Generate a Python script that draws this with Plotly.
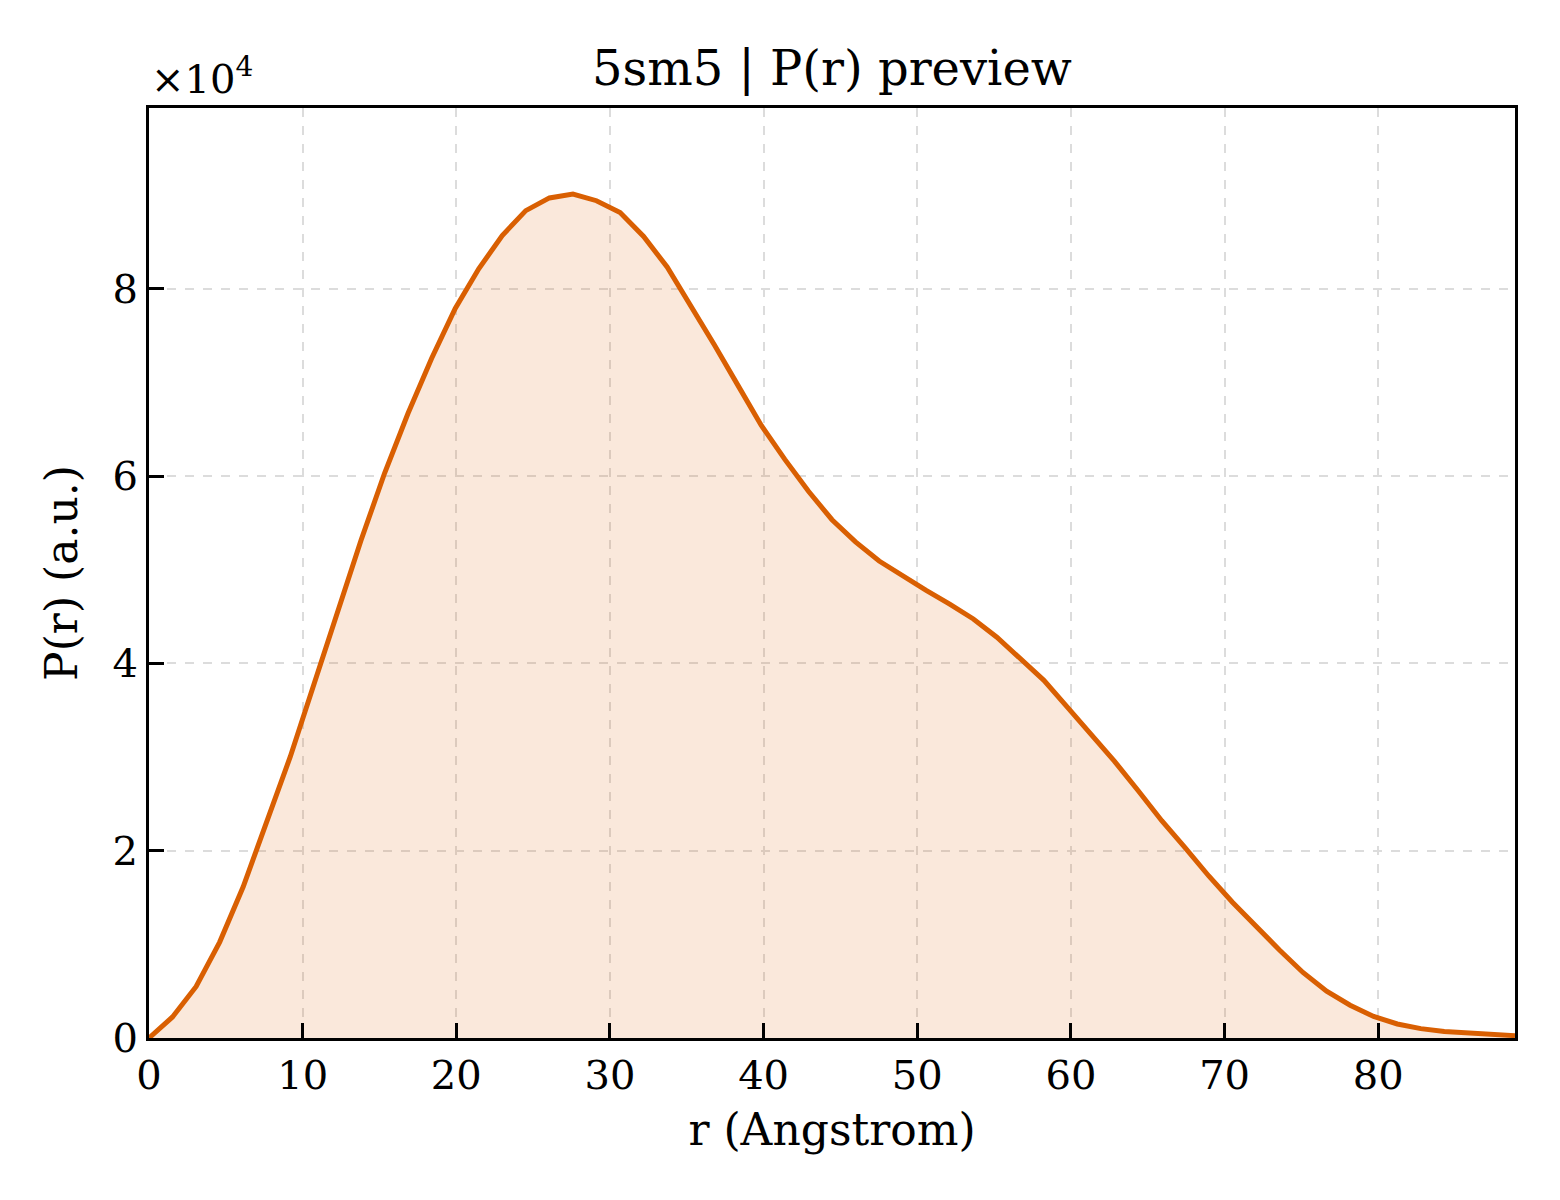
import plotly.graph_objects as go

# P(r) distance distribution
r = [0.00, 1.53, 3.07, 4.60, 6.13, 7.66, 9.20, 10.73, 12.26, 13.80,
     15.33, 16.86, 18.39, 19.93, 21.46, 22.99, 24.52, 26.06, 27.59, 29.12,
     30.66, 32.19, 33.72, 35.25, 36.79, 38.32, 39.85, 41.38, 42.92, 44.45,
     45.98, 47.52, 49.05, 50.58, 52.11, 53.65, 55.18, 56.71, 58.24, 59.78,
     61.31, 62.84, 64.38, 65.91, 67.44, 68.97, 70.51, 72.04, 73.57, 75.10,
     76.64, 78.17, 79.70, 81.24, 82.77, 84.30, 85.83, 87.37, 88.90]
pr = [0, 2250, 5500, 10240, 16150, 22960, 30060, 37750, 45440, 53140,
      60300, 66700, 72550, 77900, 82130, 85680, 88340, 89700, 90120, 89400,
      88150, 85590, 82320, 78290, 74020, 69710, 65400, 61780, 58370, 55340,
      52970, 50930, 49300, 47790, 46320, 44740, 42800, 40550, 38190, 35310,
      32420, 29540, 26400, 23200, 20300, 17300, 14500, 11900, 9400, 7000,
      5000, 3500, 2300, 1500, 1000, 700, 560, 450, 250]

ytick_vals = [0, 20000, 40000, 60000, 80000]
ytick_text = ["0", "2", "4", "6", "8"]
xtick_vals = [0, 10, 20, 30, 40, 50, 60, 70, 80]

font = "DejaVu Serif"

fig = go.Figure()
fig.add_trace(go.Scatter(x=r, y=pr, mode="lines", fill="tozeroy",
                         fillcolor="rgba(217,95,2,0.14)",
                         line=dict(color="#D95F02", width=5),
                         showlegend=False))

# page body has an 8px margin, so the figure is a bit smaller than the window
fig.update_layout(
    width=1552, height=1192,
    margin=dict(l=141, r=45, t=100, b=162),
    paper_bgcolor="white", plot_bgcolor="white",
    font=dict(family=font, size=40, color="black"),
    title=dict(text="5sm5 | P(r) preview", x=0.5, xref="paper",
               y=1 - 60 / 1192, yref="container", yanchor="middle",
               font=dict(size=48, family=font)),
)
fig.update_xaxes(range=[0, 88.9], tickvals=xtick_vals,
                 ticks="inside", ticklen=15, tickwidth=3, tickcolor="black",
                 showline=True, linecolor="black", linewidth=3, mirror=True,
                 showgrid=True, gridcolor="#dcdcdc", gridwidth=1.5, griddash="dash",
                 zeroline=False, tickfont=dict(size=40, family=font),
                 title=dict(text="r (Angstrom)", font=dict(size=44, family=font), standoff=18))
fig.update_yaxes(range=[0, 99300], tickvals=ytick_vals, ticktext=ytick_text,
                 ticks="inside", ticklen=15, tickwidth=3, tickcolor="black",
                 showline=True, linecolor="black", linewidth=3, mirror=True,
                 showgrid=True, gridcolor="#dcdcdc", gridwidth=1.5, griddash="dash",
                 zeroline=False, tickfont=dict(size=40, family=font),
                 title=dict(text="P(r) (a.u.)", font=dict(size=44, family=font), standoff=22))

fig.add_annotation(text="×10<sup>4</sup>", xref="paper", yref="paper", x=0, y=1,
                   xanchor="left", yanchor="bottom", yshift=4, showarrow=False,
                   font=dict(size=40, family=font))

fig.write_html("out.html")
